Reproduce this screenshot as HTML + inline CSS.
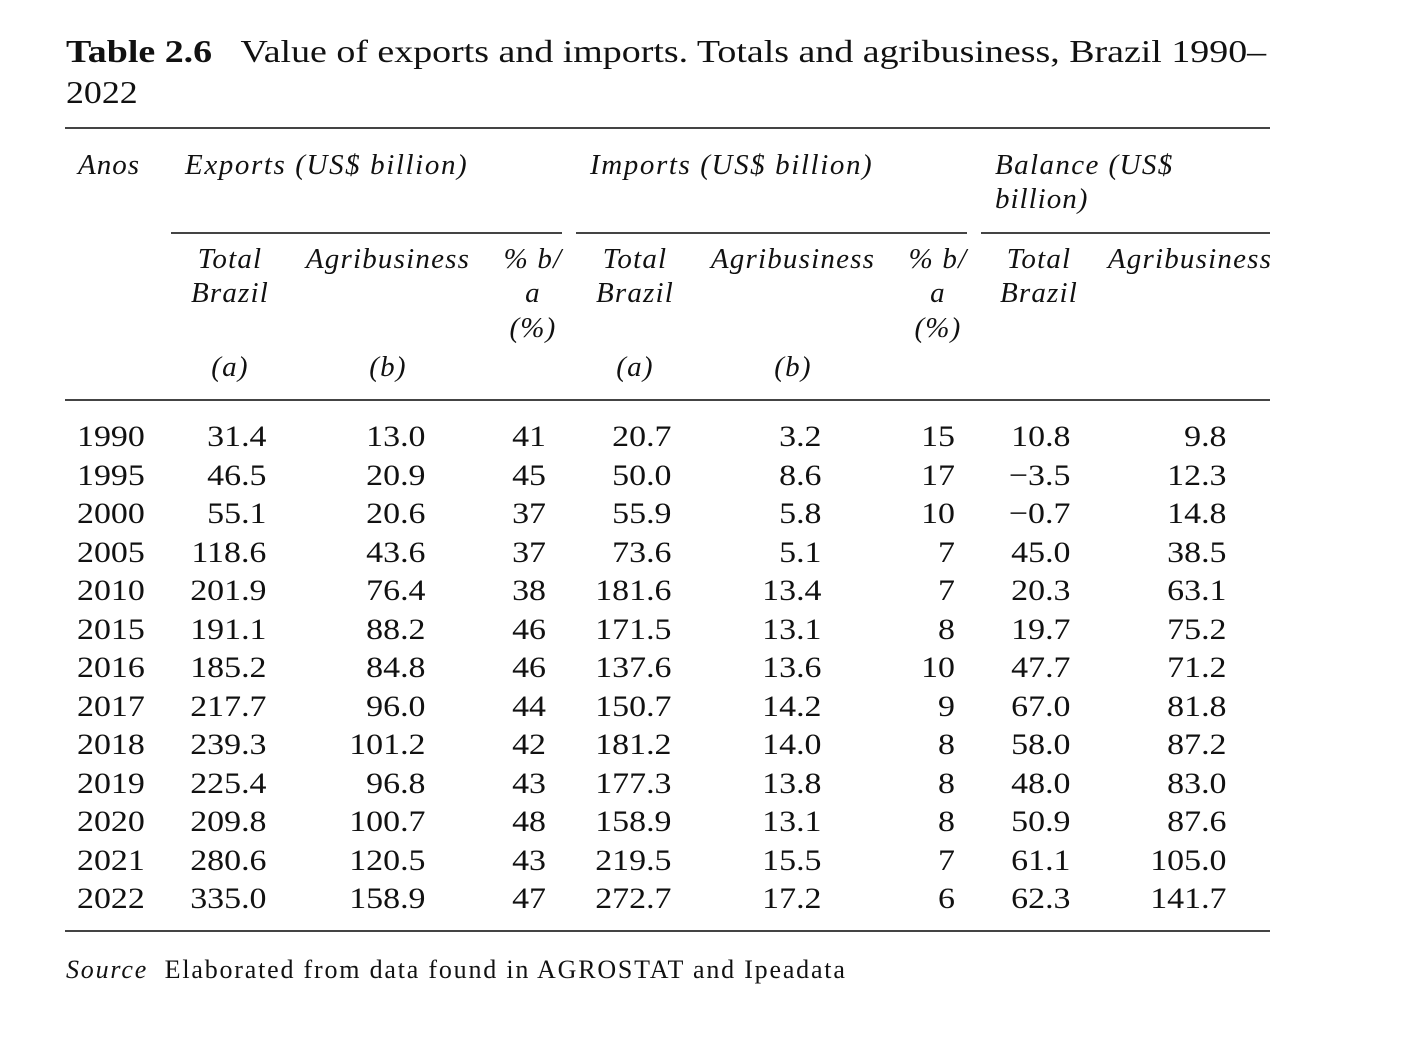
<!DOCTYPE html>
<html><head><meta charset="utf-8">
<style>
html,body{margin:0;padding:0;background:#fff;}
body{width:1402px;height:1042px;position:relative;overflow:hidden;font-family:"Liberation Serif",serif;color:#111;}
.t{position:absolute;white-space:nowrap;font-size:29px;line-height:34px;}
.i{font-style:italic;}
.r{text-align:right;}
.c{text-align:center;}
.rule{position:absolute;height:1.5px;background:#444;}
</style></head><body>
<div class="t" style="left:66px;top:32px;font-size:32px;line-height:38px;transform:scaleX(1.185);transform-origin:left;"><b>Table 2.6</b>&nbsp;&nbsp;&nbsp;Value of exports and imports. Totals and agribusiness, Brazil 1990–</div>
<div class="t" style="left:66px;top:73px;font-size:32px;line-height:38px;transform:scaleX(1.12);transform-origin:left;">2022</div>

<div class="rule" style="left:65px;top:127px;width:1205px;"></div>
<div class="rule" style="left:171px;top:232px;width:391px;"></div>
<div class="rule" style="left:576px;top:232px;width:391px;"></div>
<div class="rule" style="left:981px;top:232px;width:289px;"></div>
<div class="rule" style="left:65px;top:399px;width:1205px;"></div>
<div class="rule" style="left:65px;top:930px;width:1205px;"></div>

<div class="t i" style="left:78px;top:148px;letter-spacing:1px;">Anos</div>
<div class="t i" style="left:185px;top:148px;letter-spacing:1.6px;">Exports (US$ billion)</div>
<div class="t i" style="left:590px;top:148px;letter-spacing:1.6px;">Imports (US$ billion)</div>
<div class="t i" style="left:995px;top:148px;letter-spacing:1.4px;">Balance (US$</div>
<div class="t i" style="left:995px;top:182px;letter-spacing:1px;">billion)</div>

<div id="sub"></div>
<div id="rows"></div>

<div class="t" style="left:66px;top:953px;font-size:26px;letter-spacing:1.8px;"><i>Source</i>&nbsp; Elaborated from data found in AGROSTAT and Ipeadata</div>

<script>
const years=["1990","1995","2000","2005","2010","2015","2016","2017","2018","2019","2020","2021","2022"];
const expTotal=["31.4","46.5","55.1","118.6","201.9","191.1","185.2","217.7","239.3","225.4","209.8","280.6","335.0"];
const expAgri=["13.0","20.9","20.6","43.6","76.4","88.2","84.8","96.0","101.2","96.8","100.7","120.5","158.9"];
const expPct=["41","45","37","37","38","46","46","44","42","43","48","43","47"];
const impTotal=["20.7","50.0","55.9","73.6","181.6","171.5","137.6","150.7","181.2","177.3","158.9","219.5","272.7"];
const impAgri=["3.2","8.6","5.8","5.1","13.4","13.1","13.6","14.2","14.0","13.8","13.1","15.5","17.2"];
const impPct=["15","17","10","7","7","8","10","9","8","8","8","7","6"];
const balTotal=["10.8","−3.5","−0.7","45.0","20.3","19.7","47.7","67.0","58.0","48.0","50.9","61.1","62.3"];
const balAgri=["9.8","12.3","14.8","38.5","63.1","75.2","71.2","81.8","87.2","83.0","87.6","105.0","141.7"];

const cols=[["year-cell",years,77,"l"],["exports-total-cell",expTotal,266,"r"],["exports-agri-cell",expAgri,425,"r"],["exports-pct-cell",expPct,546,"r"],["imports-total-cell",impTotal,671,"r"],["imports-agri-cell",impAgri,821,"r"],["imports-pct-cell",impPct,955,"r"],["balance-total-cell",balTotal,1070,"r"],["balance-agri-cell",balAgri,1226,"r"]];
const rowsEl=document.getElementById('rows');
years.forEach((y,i)=>{
  const cy=437+i*38.5;
  cols.forEach(c=>{
    const d=document.createElement('div');
    d.className='t';
    
    
    d.textContent=c[1][i];
    d.style.top=(cy-17)+'px';
    d.style.fontSize='30px';
    if(c[3]==='l'){d.style.left=c[2]+'px';d.style.transformOrigin='left';}
    else{d.style.right=(1402-c[2])+'px';d.style.transformOrigin='right';}
    d.style.transform='scaleX(1.13)';
    rowsEl.appendChild(d);
  });
});

const subs=[["Total",230,259],["Brazil",230,293],["(a)",230,367],["Agribusiness",388,259],["(b)",388,367],["% b/",533,259],["a",533,293],["(%)",533,328],
["Total",635,259],["Brazil",635,293],["(a)",635,367],["Agribusiness",793,259],["(b)",793,367],["% b/",938,259],["a",938,293],["(%)",938,328],
["Total",1039,259],["Brazil",1039,293],["Agribusiness",1190,259]];
const subEl=document.getElementById('sub');
subs.forEach(s=>{
  const d=document.createElement('div');
  d.className='t i c';
  
  
  d.textContent=s[0];
  d.style.left=(s[1]-100)+'px';
  d.style.width='200px';
  d.style.top=(s[2]-17)+'px';
  d.style.letterSpacing='1.2px';
  subEl.appendChild(d);
});
</script>
</body></html>
